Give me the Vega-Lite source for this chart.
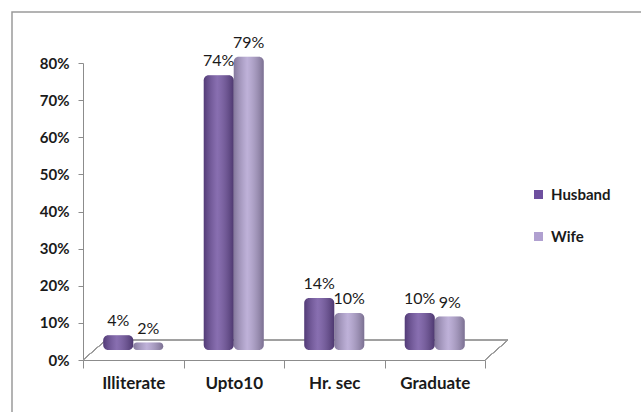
{
  "$schema": "https://vega.github.io/schema/vega-lite/v6.json",
  "width": 640,
  "height": 410,
  "autosize": {"type": "none"},
  "padding": {"left": 12, "top": 12, "right": 0, "bottom": 0},
  "background": "white",
  "config": {
    "view": {"stroke": "#9a9a9a", "strokeWidth": 1.5},
    "font": "Lato"
  },
  "data": {
    "values": [
      {"cat": "Illiterate", "who": "Husband", "v": 0.04},
      {"cat": "Illiterate", "who": "Wife", "v": 0.02},
      {"cat": "Upto10", "who": "Husband", "v": 0.74},
      {"cat": "Upto10", "who": "Wife", "v": 0.79},
      {"cat": "Hr. sec", "who": "Husband", "v": 0.14},
      {"cat": "Hr. sec", "who": "Wife", "v": 0.10},
      {"cat": "Graduate", "who": "Husband", "v": 0.10},
      {"cat": "Graduate", "who": "Wife", "v": 0.09}
    ]
  },
  "encoding": {
    "x": {
      "field": "cat",
      "type": "nominal",
      "sort": ["Illiterate", "Upto10", "Hr. sec", "Graduate"],
      "scale": {"range": [71, 473], "paddingInner": 0, "paddingOuter": 0},
      "axis": {
        "title": null,
        "orient": "bottom",
        "offset": -62,
        "labelAngle": 0,
        "tickBand": "extent",
        "tickSize": 8,
        "domainColor": "#8c8c8c",
        "tickColor": "#8c8c8c",
        "labelFontSize": 17,
        "labelFontWeight": "bold",
        "labelColor": "#1a1a1a",
        "labelPadding": 7
      }
    },
    "y": {
      "field": "v",
      "type": "quantitative",
      "scale": {"domain": [0, 0.8], "range": [348, 51], "nice": false, "zero": false, "clamp": false},
      "axis": {
        "title": null,
        "values": [0, 0.1, 0.2, 0.3, 0.4, 0.5, 0.6, 0.7, 0.8],
        "format": ".0%",
        "offset": -71,
        "grid": false,
        "tickSize": 5,
        "labelPadding": 9,
        "labelFontSize": 15,
        "labelFontWeight": "bold",
        "labelColor": "#1a1a1a",
        "domainColor": "#8c8c8c",
        "tickColor": "#8c8c8c"
      }
    }
  },
  "layer": [
    {
      "mark": {"type": "bar", "fill": "#f4f4f4", "fillOpacity": 0, "stroke": "#9a9a9a", "strokeWidth": 1, "xOffset": 23, "x2Offset": 23, "yOffset": -20, "y2Offset": -20},
      "encoding": {"y": {"datum": 0}, "y2": {"datum": 0}}
    },
    {
      "mark": {"type": "rule", "color": "#9a9a9a", "strokeWidth": 1, "x2Offset": 23, "y2Offset": -20},
      "encoding": {
        "x": {"datum": "Illiterate", "bandPosition": 0},
        "x2": {"datum": "Illiterate", "bandPosition": 0},
        "y": {"datum": 0},
        "y2": {"datum": 0}
      }
    },
    {
      "mark": {"type": "rule", "color": "#9a9a9a", "strokeWidth": 1, "x2Offset": 23, "y2Offset": -20},
      "encoding": {
        "x": {"datum": "Graduate", "bandPosition": 1},
        "x2": {"datum": "Graduate", "bandPosition": 1},
        "y": {"datum": 0},
        "y2": {"datum": 0}
      }
    },
    {
      "mark": {"type": "bar", "xOffset": 11, "yOffset": -10, "y2Offset": -10, "cornerRadius": 5},
      "encoding": {
        "xOffset": {"field": "who", "type": "nominal", "scale": {"paddingOuter": 0.675, "paddingInner": 0}},
        "y2": {"datum": 0},
        "color": {
          "field": "who",
          "type": "nominal",
          "scale": {"domain": ["Husband", "Wife"], "range": ["#6e4f9f", "#b0a0d0"]},
          "legend": {
            "title": null,
            "orient": "none",
            "legendX": 519,
            "legendY": 175,
            "symbolType": "square",
            "symbolSize": 81,
            "symbolStrokeWidth": 0,
            "labelFontSize": 15,
            "labelFontWeight": "bold",
            "labelColor": "#1a1a1a",
            "rowPadding": 26,
            "labelOffset": 5,
            "padding": 0
          }
        }
      }
    },
    {
      "mark": {
        "type": "bar",
        "xOffset": 11,
        "yOffset": -10,
        "y2Offset": -10,
        "cornerRadius": 5,
        "fill": {
          "gradient": "linear",
          "x1": 0, "y1": 0, "x2": 1, "y2": 0,
          "stops": [
            {"offset": 0, "color": "rgba(0,0,0,0.25)"},
            {"offset": 0.45, "color": "rgba(255,255,255,0.18)"},
            {"offset": 1, "color": "rgba(0,0,0,0.3)"}
          ]
        }
      },
      "encoding": {
        "xOffset": {"field": "who", "type": "nominal", "scale": {"paddingOuter": 0.675, "paddingInner": 0}},
        "y2": {"datum": 0}
      }
    },
    {
      "mark": {"type": "text", "xOffset": 5, "yOffset": -10, "baseline": "bottom", "dy": -6, "fontSize": 16, "color": "#1a1a1a"},
      "encoding": {
        "xOffset": {"field": "who", "type": "nominal", "scale": {"paddingOuter": 0.675, "paddingInner": 0}},
        "text": {"field": "v", "format": ".0%"}
      }
    }
  ]
}
